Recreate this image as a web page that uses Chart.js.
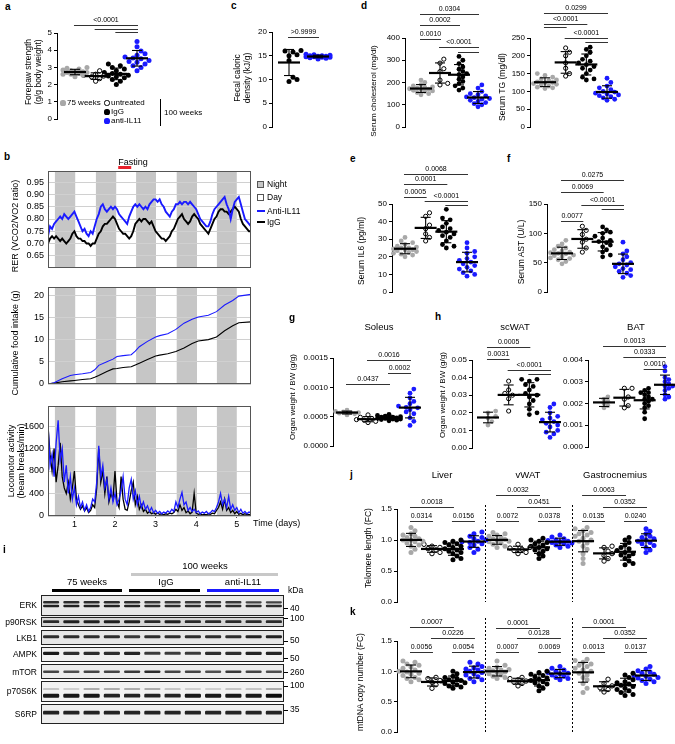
<!DOCTYPE html>
<html>
<head>
<meta charset="utf-8">
<script src="https://cdn.jsdelivr.net/npm/chart.js@4.4.1/dist/chart.umd.min.js"></script>
<style>
  body { margin: 0; background: #fff; }
  #fig { position: relative; width: 675px; height: 744px; overflow: hidden; background: #fff;
         font-family: 'Liberation Sans', Arial, sans-serif; color: #000; }
  #fig canvas { position: absolute; }
  .lbl { position: absolute; white-space: nowrap; line-height: 1; }
</style>
</head>
<body>
<div id="fig"></div>
<script>
// ---------- data ----------

// a: forepaw strength (g/g body weight)
const forepawTicks = [0, 1, 2, 3, 4, 5];
const forepaw75 = [2.45, 2.55, 2.6, 2.6, 2.65, 2.7, 2.7, 2.75, 2.75, 2.8, 2.85, 2.9, 2.95, 3.0];
const forepawUnt = [2.2, 2.35, 2.45, 2.5, 2.55, 2.6, 2.8];
const forepawIgG = [2.0, 2.2, 2.3, 2.4, 2.45, 2.5, 2.55, 2.6, 2.65, 2.7, 2.8, 2.9, 3.0, 3.1, 3.2];
const forepawAnti = [2.8, 3.0, 3.1, 3.2, 3.3, 3.35, 3.4, 3.5, 3.55, 3.6, 3.7, 3.8, 3.95, 4.2, 4.5];

// c: fecal caloric density (kJ/g)
const fecalTicks = [0, 5, 10, 15, 20];
const fecalIgG = [16.1, 16.0, 15.8, 15.2, 15.0, 14.0, 10.5, 10.0, 9.6];
const fecalAnti = [14.3, 14.5, 14.6, 14.7, 14.7, 14.8, 14.8, 14.9, 14.9, 15.0, 15.0, 15.1, 15.2, 15.3];

// d: serum cholesterol and TG (mg/dl)
const cholTicks = [0, 100, 200, 300, 400];
const cholOld = [145, 150, 155, 160, 162, 165, 168, 170, 172, 175, 178, 180, 185, 190, 200, 211];
const cholUnt = [189, 196, 211, 249, 262, 287, 305];
const cholIgG = [166, 175, 185, 195, 205, 215, 225, 235, 240, 250, 260, 270, 285, 300, 317];
const cholAnti = [91, 100, 105, 110, 115, 120, 125, 128, 132, 135, 140, 145, 150, 160, 175, 189];
const tgTicks = [0, 50, 100, 150, 200, 250];
const tgOld = [108, 110, 112, 115, 118, 120, 122, 124, 125, 127, 130, 132, 135, 140, 145, 150];
const tgUnt = [143, 150, 165, 180, 200, 210, 222];
const tgIgG = [132, 135, 140, 150, 160, 165, 170, 175, 180, 185, 190, 200, 210, 218, 224];
const tgAnti = [75, 78, 82, 85, 88, 90, 93, 95, 98, 100, 105, 110, 115, 125, 137];

// e: serum IL6 (pg/ml), f: serum AST (U/L)
const il6Ticks = [0, 10, 20, 30, 40, 50];
const il6Old = [20, 21, 21.5, 22, 22.5, 23, 23.5, 24, 24, 24.5, 25, 25, 25.5, 26, 27, 28, 29, 31];
const il6Unt = [29, 31, 33, 36, 38, 43, 45];
const il6IgG = [25, 26, 27, 29, 31, 32, 33, 34, 35, 36, 37, 39, 41, 42, 47];
const il6Anti = [9, 10, 11, 12, 13, 14, 15, 16, 17, 18, 19, 20, 22, 23, 25, 28];
const astTicks = [0, 50, 100, 150];
const astOld = [48, 52, 55, 57, 58, 60, 62, 63, 65, 66, 67, 68, 70, 72, 75, 78, 82, 88];
const astUnt = [68, 75, 85, 90, 98, 105, 112];
const astIgG = [60, 63, 68, 72, 77, 80, 84, 86, 88, 92, 95, 100, 102, 106, 111];
const astAnti = [25, 28, 32, 35, 38, 40, 43, 46, 48, 50, 55, 60, 65, 70, 85];

// g: soleus, h: scWAT / BAT (organ weight / BW, g/g)
const solTicks = [0, 0.0005, 0.001, 0.0015];
const solOld = [0.00053, 0.00055, 0.00056, 0.00057, 0.00057, 0.00058, 0.00059, 0.00061];
const solUnt = [0.0004, 0.00042, 0.00044, 0.00045, 0.00047, 0.00049, 0.00053];
const solIgG = [0.00043, 0.00044, 0.00045, 0.00046, 0.00046, 0.00047, 0.00047, 0.00048, 0.00048, 0.00049, 0.00049, 0.0005, 0.00051, 0.00052, 0.00054];
const solAnti = [0.00035, 0.00042, 0.00048, 0.00055, 0.00058, 0.00062, 0.00065, 0.00066, 0.00068, 0.00072, 0.00076, 0.00082, 0.0009, 0.00097];
const scTicks = [0, 0.01, 0.02, 0.03, 0.04, 0.05];
const scOld = [0.013, 0.015, 0.017, 0.018, 0.02, 0.021];
const scUnt = [0.021, 0.028, 0.03, 0.031, 0.033, 0.038];
const scIgG = [0.019, 0.02, 0.022, 0.025, 0.027, 0.029, 0.03, 0.031, 0.033, 0.035, 0.036, 0.038, 0.039, 0.039];
const scAnti = [0.006, 0.008, 0.009, 0.01, 0.012, 0.013, 0.014, 0.015, 0.016, 0.017, 0.018, 0.02, 0.023, 0.025];
const batTicks = [0, 0.001, 0.002, 0.003, 0.004];
const batOld = [0.0018, 0.0019, 0.002, 0.0021, 0.0022, 0.0023];
const batUnt = [0.0018, 0.0019, 0.0022, 0.0023, 0.0027, 0.0027];
const batIgG = [0.0013, 0.0016, 0.0018, 0.0019, 0.002, 0.0021, 0.0022, 0.0022, 0.0023, 0.0024, 0.0025, 0.0025, 0.0026, 0.0027];
const batAnti = [0.0022, 0.0023, 0.0024, 0.0026, 0.0027, 0.0028, 0.0028, 0.0029, 0.003, 0.0031, 0.0032, 0.0035, 0.0037];

// j: telomere length (FC)
const fcTicks = [0, 0.5, 1.0, 1.5];
const telLivOld = [0.8, 0.85, 0.9, 0.92, 0.95, 0.97, 0.98, 1.0, 1.0, 1.02, 1.04, 1.06, 1.08, 1.1, 1.15, 1.2];
const telLivUnt = [0.78, 0.8, 0.84, 0.86, 0.88, 0.9, 0.93];
const telLivIgG = [0.68, 0.7, 0.74, 0.78, 0.8, 0.82, 0.84, 0.86, 0.88, 0.9, 0.92, 0.94, 0.96, 0.98, 1.0];
const telLivAnti = [0.8, 0.85, 0.88, 0.92, 0.94, 0.96, 0.97, 0.98, 1.0, 1.02, 1.04, 1.06, 1.1, 1.13];
const telWatOld = [0.88, 0.9, 0.93, 0.95, 0.97, 0.98, 0.99, 1.0, 1.01, 1.02, 1.04, 1.06, 1.08, 1.1, 1.12];
const telWatUnt = [0.78, 0.8, 0.83, 0.85, 0.87, 0.88, 0.93];
const telWatIgG = [0.7, 0.74, 0.78, 0.82, 0.84, 0.86, 0.88, 0.9, 0.92, 0.94, 0.96, 0.98, 1.0, 1.03];
const telWatAnti = [0.88, 0.9, 0.92, 0.94, 0.95, 0.96, 0.97, 0.98, 0.99, 1.0, 1.02, 1.05, 1.08];
const telGasOld = [0.62, 0.7, 0.78, 0.85, 0.9, 0.95, 0.98, 1.0, 1.03, 1.06, 1.08, 1.1, 1.12, 1.15, 1.18, 1.2];
const telGasUnt = [0.66, 0.7, 0.75, 0.78, 0.82, 0.88, 0.9];
const telGasIgG = [0.6, 0.62, 0.66, 0.7, 0.74, 0.76, 0.78, 0.8, 0.83, 0.86, 0.88, 0.92, 0.96, 1.0, 1.04];
const telGasAnti = [0.8, 0.84, 0.88, 0.91, 0.94, 0.96, 0.98, 1.0, 1.02, 1.04, 1.06, 1.1, 1.14, 1.18];

// k: mtDNA copy number (FC)
const mtLivOld = [0.83, 0.86, 0.88, 0.9, 0.93, 0.95, 0.97, 0.99, 1.0, 1.02, 1.05, 1.07, 1.1, 1.12, 1.15, 1.17];
const mtLivUnt = [0.72, 0.78, 0.82, 0.85, 0.88, 0.9];
const mtLivIgG = [0.72, 0.74, 0.76, 0.78, 0.8, 0.81, 0.82, 0.84, 0.85, 0.86, 0.88, 0.9, 0.92, 0.96, 1.0];
const mtLivAnti = [0.83, 0.86, 0.88, 0.91, 0.94, 0.96, 0.98, 1.0, 1.02, 1.04, 1.06, 1.08, 1.12, 1.15];
const mtWatOld = [0.88, 0.9, 0.92, 0.94, 0.96, 0.98, 0.99, 1.0, 1.01, 1.02, 1.03, 1.05, 1.07, 1.1, 1.17];
const mtWatUnt = [0.76, 0.8, 0.82, 0.84, 0.86, 0.88, 0.9];
const mtWatIgG = [0.68, 0.72, 0.76, 0.79, 0.81, 0.83, 0.85, 0.87, 0.89, 0.91, 0.93, 0.95, 0.98, 1.0];
const mtWatAnti = [0.86, 0.88, 0.9, 0.92, 0.94, 0.96, 0.97, 0.98, 1.0, 1.02, 1.05, 1.08];
const mtGasOld = [0.65, 0.72, 0.8, 0.86, 0.9, 0.94, 0.97, 1.0, 1.02, 1.05, 1.08, 1.1, 1.12, 1.15, 1.18, 1.2];
const mtGasUnt = [0.66, 0.7, 0.73, 0.76, 0.8, 0.87];
const mtGasIgG = [0.6, 0.62, 0.65, 0.68, 0.7, 0.72, 0.75, 0.77, 0.79, 0.81, 0.83, 0.86, 0.9, 0.94, 0.97];
const mtGasAnti = [0.8, 0.83, 0.85, 0.87, 0.89, 0.9, 0.92, 0.93, 0.95, 0.97, 0.99, 1.01, 1.04, 1.08];

// b: metabolic cages, sampled every 0.05 day from day 0.35
const dayTicks = [1, 2, 3, 4, 5];
const nightStart = [0.52, 1.53, 2.52, 3.52, 4.51];
const nightEnd = [1.02, 2.03, 3.01, 4.02, 5.0];
const fastStart = 2.08, fastEnd = 2.4;
const rerTicks = [0.65, 0.7, 0.75, 0.8, 0.85, 0.9, 0.95];
const rerAnti = [
  0.73, 0.77, 0.76, 0.78, 0.79, 0.80, 0.81, 0.80, 0.82, 0.81,
  0.80, 0.81, 0.82, 0.83, 0.81, 0.79, 0.77, 0.75, 0.76, 0.74,
  0.73, 0.75, 0.74, 0.77, 0.80, 0.82, 0.85, 0.86, 0.84, 0.83,
  0.84, 0.85, 0.84, 0.85, 0.84, 0.82, 0.81, 0.80, 0.79, 0.78,
  0.81, 0.83, 0.85, 0.86, 0.85, 0.86, 0.85, 0.84, 0.85, 0.84,
  0.86, 0.87, 0.88, 0.88, 0.87, 0.88, 0.86, 0.85, 0.83, 0.82,
  0.81, 0.83, 0.84, 0.86, 0.86, 0.87, 0.86, 0.87, 0.87, 0.86,
  0.87, 0.86, 0.85, 0.84, 0.82, 0.80, 0.79, 0.78, 0.77, 0.77,
  0.79, 0.82, 0.84, 0.85, 0.86, 0.87, 0.88, 0.89, 0.86, 0.84,
  0.80, 0.84, 0.87, 0.88, 0.89, 0.86, 0.83, 0.80, 0.79, 0.78,
  0.77];
const rerIgG = [
  0.70, 0.72, 0.73, 0.72, 0.73, 0.72, 0.71, 0.72, 0.71, 0.70,
  0.71, 0.72, 0.74, 0.75, 0.73, 0.72, 0.72, 0.71, 0.71, 0.70,
  0.70, 0.69, 0.70, 0.70, 0.72, 0.74, 0.75, 0.77, 0.78, 0.78,
  0.79, 0.80, 0.81, 0.80, 0.78, 0.76, 0.75, 0.74, 0.74, 0.73,
  0.72, 0.73, 0.75, 0.78, 0.79, 0.80, 0.79, 0.80, 0.80, 0.79,
  0.78, 0.79, 0.77, 0.75, 0.74, 0.73, 0.72, 0.72, 0.71, 0.72,
  0.73, 0.75, 0.76, 0.78, 0.80, 0.81, 0.82, 0.80, 0.79, 0.78,
  0.79, 0.81, 0.82, 0.81, 0.80, 0.78, 0.77, 0.76, 0.75, 0.74,
  0.76, 0.78, 0.80, 0.81, 0.83, 0.84, 0.84, 0.83, 0.83, 0.82,
  0.83, 0.84, 0.85, 0.84, 0.83, 0.80, 0.78, 0.77, 0.76, 0.75,
  0.75];
const foodTicks = [0, 5, 10, 15, 20];
const foodDays = [0.35, 0.5, 0.7, 0.9, 1.0, 1.2, 1.4, 1.5, 1.6, 1.8, 1.95, 2.05, 2.2, 2.4, 2.5,
                  2.6, 2.8, 3.0, 3.1, 3.3, 3.5, 3.7, 3.9, 4.05, 4.3, 4.5, 4.7, 4.9, 5.05, 5.35];
const foodAnti = [0, 0.3, 1.2, 1.9, 2.1, 2.3, 2.6, 3.2, 4.2, 5.0, 5.6, 6.2, 6.4, 6.6, 7.4,
                  8.4, 9.6, 10.6, 10.9, 11.3, 12.3, 13.7, 14.6, 15.1, 15.5, 16.3, 17.8, 18.8, 19.8, 20.2];
const foodIgG = [0, 0.2, 0.5, 0.7, 0.8, 1.0, 1.2, 1.5, 1.9, 2.8, 3.4, 3.5, 3.7, 3.9, 4.3,
                 4.7, 5.5, 6.3, 6.5, 6.8, 7.3, 8.1, 9.1, 9.7, 10.0, 10.6, 12.0, 13.1, 13.8, 14.0];
const locoTicks = [0, 400, 800, 1200, 1600];
const locoAnti = [
  1650, 900, 1100, 700, 1300, 1700, 1000, 1200, 600, 900,
  400, 700, 300, 500, 200, 350, 150, 250, 100, 200,
  80, 150, 300, 250, 600, 1250, 700, 900, 500, 650,
  300, 500, 250, 400, 200, 300, 450, 700, 300, 200,
  500, 650, 300, 450, 200, 350, 150, 250, 120, 180,
  80, 150, 60, 100, 50, 80, 40, 70, 50, 90,
  60, 120, 80, 250, 150, 300, 420, 200, 250, 100,
  150, 80, 120, 60, 90, 40, 70, 50, 80, 40,
  60, 100, 80, 150, 250, 400, 200, 300, 150, 350,
  120, 200, 100, 150, 60, 120, 50, 80, 40, 70,
  60];
const locoIgG = [
  1600, 1100, 800, 1200, 600, 900, 1300, 700, 500, 400,
  600, 300, 500, 800, 300, 200, 120, 180, 90, 150,
  60, 100, 200, 150, 500, 1200, 600, 800, 400, 700,
  250, 400, 300, 800, 250, 150, 700, 300, 120, 100,
  250, 450, 600, 200, 350, 120, 200, 80, 120, 50,
  80, 40, 60, 30, 50, 30, 40, 20, 40, 30,
  50, 40, 60, 120, 80, 200, 100, 150, 60, 90,
  40, 70, 400, 50, 30, 40, 20, 30, 20, 40,
  30, 50, 40, 100, 150, 250, 120, 300, 100, 150,
  60, 100, 40, 80, 30, 50, 20, 40, 20, 30,
  20];

// i: western blot, band intensity per lane (0-1), 12 lanes
const laneNames = ['1', '2', '3', '4', '5', '6', '7', '8', '9', '10', '11', '12'];
const erkUpper = [0.85, 0.85, 0.85, 0.85, 0.85, 0.8, 0.8, 0.8, 0.8, 0.8, 0.75, 0.75];
const erkLower = [0.9, 0.9, 0.9, 0.9, 0.9, 0.85, 0.85, 0.85, 0.85, 0.85, 0.85, 0.85];
const p90rsk = [0.85, 0.9, 0.9, 0.9, 0.9, 0.85, 0.9, 0.85, 0.85, 0.85, 0.85, 0.85];
const lkb1 = [0.85, 0.85, 0.85, 0.85, 0.8, 0.85, 0.85, 0.85, 0.85, 0.85, 0.9, 0.9];
const ampk = [0.95, 0.85, 0.85, 0.85, 0.9, 0.8, 0.8, 0.8, 0.85, 0.85, 0.9, 0.9];
const mtor = [0.75, 0.7, 0.75, 0.75, 0.8, 0.85, 0.75, 0.75, 0.7, 0.8, 0.75, 0.7];
const p70Upper = [0.25, 0.2, 0.3, 0.3, 0.3, 0.3, 0.25, 0.2, 0.2, 0.25, 0.25, 0.3];
const p70Lower = [0.95, 0.95, 0.95, 0.9, 0.9, 0.9, 0.9, 0.95, 0.95, 0.95, 0.95, 1.0];
const s6rp = [0.9, 0.9, 0.9, 0.9, 0.9, 0.9, 0.9, 0.9, 0.9, 0.9, 0.9, 0.9];
const markerLabels = ['40', '100', '50', '50', '260', '100', '35'];

// ---------- helpers ----------
const FONT = "'Liberation Sans', Arial, sans-serif";
Chart.defaults.font.family = FONT;
Chart.defaults.color = '#000';
const GRAY = '#a8a8a8', BLUE = '#1a1aff';
const fig = document.getElementById('fig');

function label(text, x, y, o = {}) {
  const d = document.createElement('div');
  d.className = 'lbl';
  d.textContent = text;
  d.style.left = x + 'px';
  d.style.top = y + 'px';
  d.style.fontSize = (o.size || 8) + 'px';
  if (o.bold) d.style.fontWeight = 'bold';
  const ax = o.align === 'left' ? '0' : o.align === 'right' ? '-100%' : '-50%';
  d.style.transform = `translate(${ax}, -50%)` + (o.rot ? ' rotate(-90deg)' : '');
  fig.appendChild(d);
}

function box(x, y, w, h, css) {
  const d = document.createElement('div');
  d.style.cssText = `position:absolute;left:${x}px;top:${y}px;width:${w}px;height:${h}px;box-sizing:border-box;${css}`;
  fig.appendChild(d);
}

function dot(x, y, r, bg, bd) {
  box(x - r, y - r, 2 * r, 2 * r, `border-radius:50%;background:${bg};` + (bd ? `border:1px solid ${bd};` : ''));
}

function makeCanvas(id, area, m) {
  const c = document.createElement('canvas');
  c.id = id;
  const w = Math.round(area.r - area.l + m.l + m.r);
  const h = Math.round(area.b - area.t + m.t + m.b);
  c.width = w; c.height = h;
  c.style.width = w + 'px'; c.style.height = h + 'px';
  c.style.left = Math.round(area.l - m.l) + 'px';
  c.style.top = Math.round(area.t - m.t) + 'px';
  fig.appendChild(c);
  return c;
}

const mean = a => a.reduce((s, v) => s + v, 0) / a.length;
const sd = a => { const m = mean(a); return Math.sqrt(a.reduce((s, v) => s + (v - m) ** 2, 0) / (a.length - 1)); };

// beeswarm: push overlapping dots sideways, lowest values first
function swarm(vals, ppu, sp, r) {
  const order = vals.map((v, i) => i).sort((a, b) => vals[a] - vals[b]);
  const placed = [];
  const offs = new Array(vals.length).fill(0);
  const d = 2 * r, step = d * 0.8;
  order.forEach(i => {
    const py = vals[i] * ppu;
    let choice = null, bestGap = -1, bestOx = 0;
    for (let k = 0; k < 7; k++) {
      const ox = k === 0 ? 0 : (k % 2 ? 1 : -1) * Math.ceil(k / 2) * step;
      let gap = Infinity;
      placed.forEach(p => { gap = Math.min(gap, Math.hypot(p.ox - ox, p.py - py)); });
      if (gap >= d * 0.9) { choice = ox; break; }
      if (gap > bestGap) { bestGap = gap; bestOx = ox; }
    }
    if (choice === null) choice = bestOx;
    placed.push({ ox: choice, py });
    offs[i] = choice / sp;
  });
  return offs;
}

const groupStyles = {
  gray: { bg: GRAY, bd: GRAY, bw: 0 },
  open: { bg: '#fff', bd: '#000', bw: 1 },
  black: { bg: '#000', bd: '#000', bw: 0 },
  blue: { bg: BLUE, bd: BLUE, bw: 0 }
};

const specs = {};

function seg(ctx, x1, y1, x2, y2) { ctx.beginPath(); ctx.moveTo(x1, y1); ctx.lineTo(x2, y2); ctx.stroke(); }

// mean +- SD, significance bars, dashed separators
const dotPlugin = {
  id: 'dotExtras',
  afterDatasetsDraw(chart) {
    const s = specs[chart.canvas.id];
    if (!s) return;
    const { ctx } = chart;
    const x = chart.scales.x, y = chart.scales.y;
    ctx.save();
    ctx.strokeStyle = '#000';
    ctx.lineWidth = 1;
    s.seps.forEach(([slot, yTop]) => {
      const px = Math.round(x.getPixelForValue(slot)) + 0.5;
      ctx.setLineDash([2, 2]);
      seg(ctx, px, y.top - (s.axisTop - yTop), px, y.bottom);
      ctx.setLineDash([]);
    });
    s.stats.forEach(g => {
      const px = x.getPixelForValue(g.slot);
      const pm = y.getPixelForValue(g.mean);
      const p1 = y.getPixelForValue(g.mean + g.sd), p2 = y.getPixelForValue(g.mean - g.sd);
      ctx.lineWidth = 1.1;
      seg(ctx, px, p1, px, p2);
      seg(ctx, px - 5, p1, px + 5, p1);
      seg(ctx, px - 5, p2, px + 5, p2);
      ctx.lineWidth = 2.2;
      seg(ctx, px - 11, pm, px + 11, pm);
    });
    ctx.lineWidth = 1;
    ctx.strokeStyle = '#333';
    ctx.fillStyle = '#000';
    ctx.font = `7px ${FONT}`;
    ctx.textAlign = 'center';
    ctx.textBaseline = 'bottom';
    s.sig.forEach(([a, b, yp, t]) => {
      const yy = Math.round(y.top - (s.axisTop - yp)) + 0.5;
      const x1 = x.getPixelForValue(s.slots[a]) - 1, x2 = x.getPixelForValue(s.slots[b]) + 1;
      seg(ctx, x1, yy, x2, yy);
      if (t) ctx.fillText(t, (x1 + x2) / 2, yy - 1.5);
    });
    ctx.restore();
  }
};

function dotPlot(id, p) {
  const xmin = -p.first / p.sp;
  const xmax = p.slots[p.slots.length - 1] + (p.tail || 12) / p.sp;
  const area = { l: p.axisX, r: p.axisX + (xmax - xmin) * p.sp, t: p.top, b: p.bottom };
  const m = { l: 34, r: 6, t: p.mt || 14, b: 12 };
  const canvas = makeCanvas(id, area, m);
  const ppu = (p.bottom - p.top) / p.yMax;
  const r = p.r || 2.4;
  const stats = [];
  const datasets = p.groups.map((g, gi) => {
    const st = groupStyles[g[1]];
    const offs = swarm(g[0], ppu, p.sp, r);
    stats.push({ slot: p.slots[gi], mean: mean(g[0]), sd: sd(g[0]) });
    return {
      data: g[0].map((v, i) => ({ x: p.slots[gi] + offs[i], y: v })),
      pointRadius: g[1] === 'open' ? r - 0.3 : r,
      backgroundColor: st.bg, borderColor: st.bd, borderWidth: st.bw, clip: false
    };
  });
  specs[id] = { stats, sig: p.sig, slots: p.slots, axisTop: p.top, seps: p.seps || [] };
  new Chart(canvas, {
    type: 'scatter',
    data: { datasets },
    options: {
      responsive: false, animation: false, events: [],
      layout: { padding: { left: 0, right: m.r, top: m.t, bottom: m.b } },
      plugins: { legend: { display: false }, tooltip: { enabled: false } },
      scales: {
        x: { type: 'linear', display: false, min: xmin, max: xmax },
        y: {
          min: 0, max: p.yMax,
          afterFit: s => { s.width = m.l; },
          afterBuildTicks: s => { s.ticks = p.ticks.map(v => ({ value: v })); },
          ticks: { font: { size: 8 }, color: '#000', padding: 2, callback: v => v.toFixed(p.dec) },
          grid: { drawOnChartArea: false, drawTicks: true, tickLength: 3, color: '#000' },
          border: { display: true, color: '#000', width: 1 }
        }
      }
    },
    plugins: [dotPlugin]
  });
}

// night shading, frame, fasting bar
const bPlugin = {
  id: 'bExtras',
  beforeDraw(chart) {
    const { ctx, chartArea: a } = chart;
    const x = chart.scales.x;
    ctx.save();
    ctx.fillStyle = '#c6c6c6';
    nightStart.forEach((s, i) => {
      const x1 = x.getPixelForValue(s), x2 = x.getPixelForValue(nightEnd[i]);
      ctx.fillRect(x1, a.top, x2 - x1, a.bottom - a.top);
    });
    ctx.restore();
  },
  afterDraw(chart) {
    const { ctx, chartArea: a } = chart;
    const x = chart.scales.x;
    ctx.save();
    ctx.strokeStyle = '#555';
    ctx.lineWidth = 1;
    ctx.strokeRect(Math.round(a.left) + 0.5, Math.round(a.top) + 0.5, Math.round(a.right - a.left) - 1, Math.round(a.bottom - a.top) - 1);
    if (chart.canvas.id === 'rer') {
      const x1 = x.getPixelForValue(fastStart), x2 = x.getPixelForValue(fastEnd);
      ctx.fillStyle = '#e8202a';
      ctx.fillRect(x1, a.top - 5, x2 - x1, 3);
    }
    ctx.restore();
  }
};

function bChart(id, area, yMin, yMax, yTicks, dec, datasets, showX) {
  const m = { l: 36, r: 6, t: 12, b: showX ? 20 : 12 };
  const canvas = makeCanvas(id, area, m);
  new Chart(canvas, {
    type: 'line',
    data: { datasets },
    options: {
      responsive: false, animation: false, events: [],
      layout: { padding: { left: 0, right: m.r, top: m.t, bottom: showX ? m.b - 14 : m.b } },
      plugins: { legend: { display: false }, tooltip: { enabled: false } },
      elements: { point: { radius: 0 }, line: { tension: 0 } },
      scales: {
        x: {
          type: 'linear', min: 0.35, max: 5.35, display: showX,
          afterFit: s => { s.height = 14; },
          afterBuildTicks: s => { s.ticks = dayTicks.map(v => ({ value: v })); },
          ticks: { font: { size: 9 }, color: '#000', padding: 1 },
          grid: { drawOnChartArea: false, drawTicks: true, tickLength: 2, color: '#555' },
          border: { display: false }
        },
        y: {
          min: yMin, max: yMax,
          afterFit: s => { s.width = m.l; },
          afterBuildTicks: s => { s.ticks = yTicks.map(v => ({ value: v })); },
          ticks: { font: { size: 9 }, color: '#000', padding: 4, callback: v => v.toFixed(dec) },
          grid: { color: '#d0d0d0', drawTicks: false },
          border: { display: false }
        }
      }
    },
    plugins: [bPlugin]
  });
}

// blot rows (offsets in px from the top of the blot) and bands
const blotRows = [
  { name: 'ERK', top: 0, bot: 20.5, bg: '#e9e9e9' },
  { name: 'p90RSK', top: 21.5, bot: 32, bg: '#d6d6d6' },
  { name: 'LKB1', top: 35, bot: 50.3, bg: '#e6e6e6' },
  { name: 'AMPK', top: 51.7, bot: 66.7, bg: '#f0f0f0' },
  { name: 'mTOR', top: 69, bot: 84.3, bg: '#ececec' },
  { name: 'p70S6K', top: 86, bot: 106.7, bg: '#f2f2f2' },
  { name: 'S6RP', top: 109, bot: 129, bg: '#eeeeee' }
];
const bandRows = [
  { vals: erkUpper, c: 7.3, h: 2.6 },
  { vals: erkLower, c: 11.0, h: 2.6 },
  { vals: p90rsk, c: 26.7, h: 3.0 },
  { vals: lkb1, c: 41.7, h: 3.2 },
  { vals: ampk, c: 58.3, h: 3.4 },
  { vals: mtor, c: 76.7, h: 2.8 },
  { vals: p70Upper, c: 94, h: 2.6 },
  { vals: p70Lower, c: 100.7, h: 4.0 },
  { vals: s6rp, c: 117.7, h: 4.0 }
];
const markerPos = [13.3, 23.3, 46, 63.3, 77.7, 91, 115];

const blotPlugin = {
  id: 'blotBoxes',
  beforeDatasetsDraw(chart) {
    const { ctx, chartArea: a } = chart;
    const y = chart.scales.y;
    ctx.save();
    blotRows.forEach(r => {
      const y1 = y.getPixelForValue(r.top), y2 = y.getPixelForValue(r.bot);
      ctx.fillStyle = r.bg;
      ctx.fillRect(a.left, y1, a.right - a.left, y2 - y1);
    });
    ctx.restore();
  },
  afterDatasetsDraw(chart) {
    const { ctx, chartArea: a } = chart;
    const y = chart.scales.y;
    ctx.save();
    ctx.strokeStyle = '#222';
    ctx.lineWidth = 1;
    blotRows.forEach(r => {
      const y1 = Math.round(y.getPixelForValue(r.top)) + 0.5, y2 = Math.round(y.getPixelForValue(r.bot)) - 0.5;
      ctx.strokeRect(Math.round(a.left) + 0.5, y1, Math.round(a.right - a.left) - 1, y2 - y1);
    });
    ctx.restore();
  }
};

function blotChart() {
  const area = { l: 41, r: 284, t: 595, b: 724 };
  const m = { l: 0, r: 30, t: 12, b: 12 };
  const canvas = makeCanvas('blot', area, m);
  const datasets = bandRows.map(b => ({
    type: 'bar',
    data: b.vals.map(v => {
      const half = b.h / 2 * (0.55 + 0.45 * v);
      return [b.c - half, b.c + half];
    }),
    backgroundColor: b.vals.map(v => `rgba(12,12,12,${v})`),
    grouped: false, barPercentage: 0.8, categoryPercentage: 1, borderRadius: 1.2, borderSkipped: false
  }));
  new Chart(canvas, {
    type: 'bar',
    data: { labels: laneNames, datasets },
    options: {
      responsive: false, animation: false, events: [],
      layout: { padding: { left: 0, right: 0, top: m.t, bottom: m.b } },
      plugins: { legend: { display: false }, tooltip: { enabled: false } },
      scales: {
        x: { type: 'category', display: false },
        y: { min: 0, max: 129, reverse: true, display: false },
        yr: {
          position: 'right', min: 0, max: 129, reverse: true,
          afterFit: s => { s.width = m.r; },
          afterBuildTicks: s => { s.ticks = markerPos.map(v => ({ value: v })); },
          ticks: { font: { size: 8.5 }, color: '#000', padding: 2, autoSkip: false,
                   callback: (v, i) => markerLabels[i] },
          grid: { drawOnChartArea: false, drawTicks: true, tickLength: 4, color: '#000' },
          border: { display: false }
        }
      }
    },
    plugins: [blotPlugin]
  });
}

// ---------- build ----------
const four = ['gray', 'open', 'black', 'blue'];
const grp = arrs => arrs.map((a, i) => [a, four[i]]);

dotPlot('pa', { axisX: 57, top: 33, bottom: 119, yMax: 5, ticks: forepawTicks, dec: 0,
  slots: [0, 1, 2, 3], sp: 20.7, first: 18, mt: 30, r: 2.5,
  groups: grp([forepaw75, forepawUnt, forepawIgG, forepawAnti]),
  sig: [[0, 3, 25, '<0.0001'], [1, 3, 28.5, ''], [2, 3, 32, '']] });

dotPlot('pc', { axisX: 272, top: 32, bottom: 127, yMax: 20, ticks: fecalTicks, dec: 0,
  slots: [0, 1], sp: 29, first: 17, tail: 14, mt: 14, r: 2.5,
  groups: [[fecalIgG, 'black'], [fecalAnti, 'blue']],
  sig: [[0, 1, 37, '>0.9999']] });

dotPlot('pd1', { axisX: 405, top: 38, bottom: 127, yMax: 400, ticks: cholTicks, dec: 0,
  slots: [0, 1, 2, 3], sp: 19, first: 16, mt: 36,
  groups: grp([cholOld, cholUnt, cholIgG, cholAnti]),
  sig: [[0, 3, 14, '0.0304'], [0, 2, 25, '0.0002'], [0, 1, 39, '0.0010'], [1, 3, 47, '<0.0001'], [2, 3, 52, '']] });

dotPlot('pd2', { axisX: 530, top: 38, bottom: 127, yMax: 250, ticks: tgTicks, dec: 0,
  slots: [0, 1, 2, 3], sp: 20.7, first: 15, mt: 36,
  groups: grp([tgOld, tgUnt, tgIgG, tgAnti]),
  sig: [[0, 3, 13, '0.0299'], [0, 2, 24, '<0.0001'], [0, 1, 27, ''], [1, 3, 38, '<0.0001'], [2, 3, 42, '']] });

dotPlot('pe', { axisX: 392, top: 204, bottom: 292, yMax: 50, ticks: il6Ticks, dec: 0,
  slots: [0, 1, 2, 3], sp: 20.7, first: 13, mt: 44,
  groups: grp([il6Old, il6Unt, il6IgG, il6Anti]),
  sig: [[0, 3, 174, '0.0068'], [0, 2, 184, '0.0001'], [0, 1, 197, '0.0005'], [1, 3, 201, '<0.0001'], [2, 3, 205, '']] });

dotPlot('pf', { axisX: 547, top: 204, bottom: 292, yMax: 150, ticks: astTicks, dec: 0,
  slots: [0, 1, 2, 3], sp: 20.3, first: 15, mt: 36,
  groups: grp([astOld, astUnt, astIgG, astAnti]),
  sig: [[0, 3, 180, '0.0275'], [0, 2, 192, '0.0069'], [1, 3, 205, '<0.0001'], [2, 3, 209, ''], [0, 1, 221, '0.0077']] });

dotPlot('pg', { axisX: 333, top: 358, bottom: 446, yMax: 0.0015, ticks: solTicks, dec: 4,
  slots: [0, 1, 2, 3], sp: 21, first: 14, mt: 14,
  groups: grp([solOld, solUnt, solIgG, solAnti]),
  sig: [[1, 3, 360, '0.0016'], [2, 3, 373, '0.0002'], [0, 2, 384, '0.0437']] });

dotPlot('ph1', { axisX: 472, top: 360, bottom: 448, yMax: 0.05, ticks: scTicks, dec: 2,
  slots: [0, 1, 2, 3], sp: 20.7, first: 16, mt: 26,
  groups: grp([scOld, scUnt, scIgG, scAnti]),
  sig: [[0, 2, 347, '0.0005'], [0, 1, 359, '0.0031'], [1, 3, 370, '<0.0001'], [2, 3, 374, '']] });

dotPlot('ph2', { axisX: 588, top: 360, bottom: 447, yMax: 0.004, ticks: batTicks, dec: 3,
  slots: [0, 1, 2, 3], sp: 20.3, first: 16, mt: 26,
  groups: grp([batOld, batUnt, batIgG, batAnti]),
  sig: [[0, 3, 346, '0.0013'], [1, 3, 357, '0.0333'], [2, 3, 369, '0.0010']] });

const jkSlots = [0, 1, 2, 3, 4.1, 5.1, 6.1, 7.1, 8.2, 9.2, 10.2, 11.2];
const twelve = arrs => arrs.map((a, i) => [a, four[i % 4]]);

dotPlot('pj', { axisX: 397, top: 509, bottom: 602, yMax: 1.5, ticks: fcTicks, dec: 1,
  slots: jkSlots, sp: 21, first: 14, mt: 28, r: 2.5,
  seps: [[3.55, 505], [7.65, 505]],
  groups: twelve([telLivOld, telLivUnt, telLivIgG, telLivAnti, telWatOld, telWatUnt, telWatIgG, telWatAnti,
                  telGasOld, telGasUnt, telGasIgG, telGasAnti]),
  sig: [[0, 2, 507, '0.0018'], [0, 1, 521, '0.0314'], [2, 3, 521, '0.0156'],
        [4, 6, 495, '0.0032'], [5, 7, 507, '0.0451'], [4, 5, 521, '0.0072'], [6, 7, 521, '0.0378'],
        [8, 10, 495, '0.0063'], [9, 11, 507, '0.0352'], [8, 9, 521, '0.0135'], [10, 11, 521, '0.0240']] });

dotPlot('pk', { axisX: 397, top: 641, bottom: 732, yMax: 1.5, ticks: fcTicks, dec: 1,
  slots: jkSlots, sp: 21, first: 14, mt: 28, r: 2.5,
  seps: [[3.55, 618], [7.65, 618]],
  groups: twelve([mtLivOld, mtLivUnt, mtLivIgG, mtLivAnti, mtWatOld, mtWatUnt, mtWatIgG, mtWatAnti,
                  mtGasOld, mtGasUnt, mtGasIgG, mtGasAnti]),
  sig: [[0, 2, 627, '0.0007'], [1, 3, 638, '0.0226'], [0, 1, 652, '0.0056'], [2, 3, 652, '0.0054'],
        [4, 6, 628, '0.0001'], [5, 7, 638, '0.0128'], [4, 5, 652, '0.0007'], [6, 7, 652, '0.0069'],
        [8, 10, 627, '0.0001'], [9, 11, 638, '0.0352'], [8, 9, 652, '0.0013'], [10, 11, 652, '0.0137']] });

// b panels
const gridDays = arr => arr.map((_, i) => 0.35 + i * 0.05);
const series = (xs, ys) => ys.map((v, i) => ({ x: xs[i], y: v }));
bChart('rer', { l: 48, r: 251, t: 171, b: 282 }, 0.6, 0.996, rerTicks, 2, [
  { data: series(gridDays(rerAnti), rerAnti), borderColor: BLUE, borderWidth: 1.9 },
  { data: series(gridDays(rerIgG), rerIgG), borderColor: '#000', borderWidth: 1.9 }
], false);
bChart('food', { l: 48, r: 251, t: 287, b: 398 }, 0, 21.85, foodTicks, 0, [
  { data: series(foodDays, foodAnti), borderColor: BLUE, borderWidth: 1.1 },
  { data: series(foodDays, foodIgG), borderColor: '#000', borderWidth: 1.1 }
], false);
bChart('loco', { l: 48, r: 251, t: 406, b: 516 }, 0, 1956, locoTicks, 0, [
  { data: series(gridDays(locoAnti), locoAnti), borderColor: BLUE, borderWidth: 1.3 },
  { data: series(gridDays(locoIgG), locoIgG), borderColor: '#000', borderWidth: 1.3 }
], true);

blotChart();

// ---------- text ----------
[['a', 5, 7], ['b', 4, 157], ['c', 231, 6], ['d', 361, 6], ['e', 350, 159], ['f', 507, 159],
 ['g', 289, 318], ['h', 435, 317], ['i', 3, 550], ['j', 350, 475], ['k', 350, 612]]
  .forEach(([t, x, y]) => label(t, x, y, { bold: true, size: 10, align: 'left' }));

label('Forepaw strength', 28, 72, { rot: true, size: 8.5 });
label('(g/g body weight)', 38, 72, { rot: true, size: 8.5 });
label('Fecal caloric', 237, 78, { rot: true, size: 8.5 });
label('density (kJ/g)', 247, 78, { rot: true, size: 8.5 });
label('Serum cholesterol (mg/dl)', 374, 91, { rot: true });
label('Serum TG (mg/dl)', 502, 87, { rot: true, size: 8.5 });
label('Serum IL6 (pg/ml)', 361, 251, { rot: true, size: 8.5 });
label('Serum AST (U/L)', 521, 252, { rot: true, size: 8.5 });
label('Organ weight / BW (g/g)', 293, 397, { rot: true });
label('Organ weight / BW (g/g)', 443, 395, { rot: true });
label('Telomere length  (FC)', 368, 548, { rot: true, size: 8.5 });
label('mtDNA copy number (FC)', 360, 682, { rot: true, size: 8.5 });

label('RER (VCO2/VO2 ratio)', 15, 226, { rot: true, size: 9 });
label('Cumulative food intake (g)', 15, 343, { rot: true, size: 9 });
label('Locomotor activity', 11, 461, { rot: true, size: 9 });
label('(beam breaks/min)', 21, 461, { rot: true, size: 9 });
label('Time (days)', 253, 523, { align: 'left', size: 9 });
label('Fasting', 133, 162, { size: 9 });

label('Soleus', 379, 327, { size: 9.5 });
label('scWAT', 515, 327, { size: 9.5 });
label('BAT', 636, 327, { size: 9.5 });
label('Liver', 442, 475, { size: 9.5 });
label('vWAT', 528, 475, { size: 9.5 });
label('Gastrocnemius', 615, 475, { size: 9.5 });

// a legend
dot(63, 103, 2.6, GRAY);
label('75 weeks', 67, 103, { align: 'left' });
dot(107, 103, 2.6, '#fff', '#000');
label('untreated', 111, 103, { align: 'left' });
dot(107, 112, 2.6, '#000');
label('IgG', 111, 112, { align: 'left' });
dot(107, 121, 2.6, BLUE);
label('anti-IL11', 111, 121, { align: 'left' });
box(160, 99, 1, 27, 'background:#000;');
label('100 weeks', 164, 113, { align: 'left' });

// b legend
box(257, 180.5, 7, 7, 'background:#c6c6c6;border:1px solid #555;');
label('Night', 267, 184, { align: 'left', size: 8.5 });
box(257, 193.5, 7, 7, 'background:#fff;border:1px solid #555;');
label('Day', 267, 197, { align: 'left', size: 8.5 });
box(257, 210, 8, 2, `background:${BLUE};`);
label('Anti-IL11', 267, 211, { align: 'left', size: 8.5 });
box(257, 221, 8, 2, 'background:#000;');
label('IgG', 267, 222, { align: 'left', size: 8.5 });

// i headers and row names
label('100 weeks', 205, 566, { size: 9.5 });
box(131, 573, 147, 3, 'background:#c8c8c8;');
label('75 weeks', 87, 582, { size: 9.5 });
box(52, 589, 70, 3, 'background:#000;');
label('IgG', 166, 582, { size: 9.5 });
box(129, 589, 71, 3, 'background:#000;');
label('anti-IL11', 243, 582, { size: 9.5 });
box(207, 589, 72, 3, `background:${BLUE};`);
label('kDa', 288, 590, { align: 'left', size: 8.5 });
blotRows.forEach(r => label(r.name, 37, 595 + (r.top + r.bot) / 2, { align: 'right', size: 8.5 }));
</script>
</body>
</html>
